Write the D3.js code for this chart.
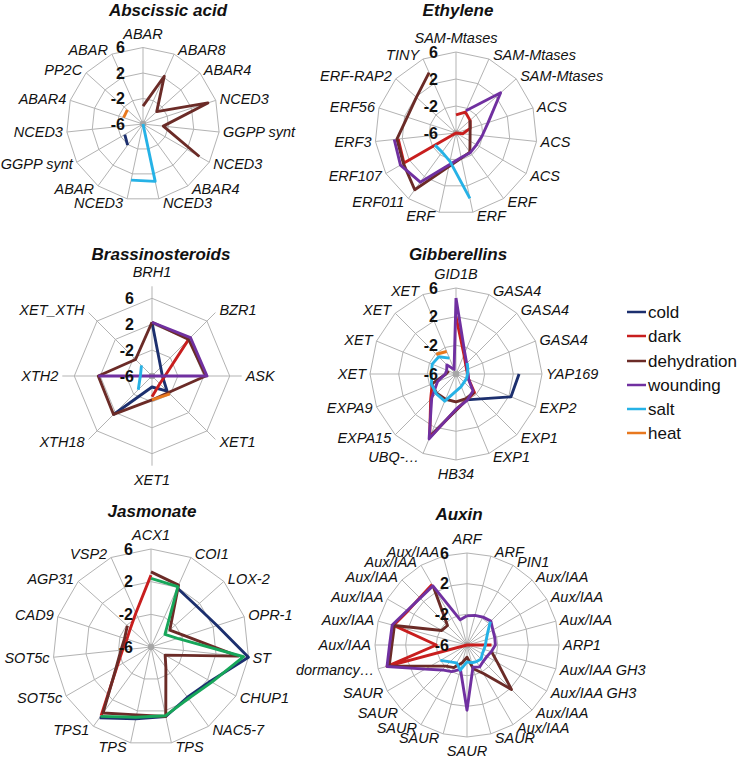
<!DOCTYPE html>
<html><head><meta charset="utf-8">
<script src="https://cdn.jsdelivr.net/npm/d3@7"></script>
<style>
body{margin:0;background:#fff}
svg{display:block}
text{font-family:"Liberation Sans",Arial,Helvetica,sans-serif;fill:#111}
</style>
</head><body>
<svg id="chart" width="738" height="758"></svg>
<script>
const N = null;
const seriesNames  = ["cold","dark","dehydration","wounding","salt","heat"];
const seriesColors = ["#1c2f6e","#c81e1e","#6b2b27","#7030a0","#26b2e6","#e8781e"];
const jasmonateGreen = "#17a65a";
const tickValues = [-6,-2,2,6];

// ---- Abscissic acid ----
const abaCategories = ["ABAR","ABAR8","ABAR4","NCED3","GGPP synt","NCED3","ABAR4","NCED3","NCED3","ABAR","GGPP synt","NCED3","ABAR4","PP2C","ABAR"];
const abaCold        = [N,N,N,N,N,N,N,N,N,-1.9,-2.7,N,N,N,N];
const abaDark        = [N,N,N,N,N,N,N,N,N,N,N,N,N,N,N];
const abaDehydration = [-3.2,2.2,-3.1,4.7,-2.8,4.2,N,N,N,N,N,N,N,N,N];
const abaWounding    = [N,N,N,N,N,N,N,N,N,N,N,N,N,N,N];
const abaSalt        = [N,N,N,N,N,N,-6,3.2,3.0,N,N,N,N,N,N];
const abaHeat        = [N,N,N,N,N,N,N,N,N,N,N,N,-2.8,-2.7,N];

// ---- Ethylene ----
const ethCategories = ["SAM-Mtases","SAM-Mtases","SAM-Mtases","ACS","ACS","ACS","ERF","ERF","ERF","ERF011","ERF107","ERF3","ERF56","ERF-RAP2","TINY"];
const ethCold        = [N,N,N,N,N,N,N,N,N,N,N,N,N,N,N];
const ethDark        = [-3.3,-2.6,-3.2,-3.8,-5.0,-6,-6,-6,-6,-6,2.9,2.6,N,N,N];
const ethDehydration = [N,N,-3.2,-3.8,-3.9,-3.6,-2.5,-2.2,-0.9,4.4,3.0,2.8,1.6,1.9,3.8];
const ethWounding    = [N,-2.4,2.9,-1.0,-2.1,-2.5,-2.4,-2.3,-1.2,3.0,3.5,3.2,N,N,N];
const ethSalt        = [N,N,N,N,N,N,N,3.9,-1.7,-2.5,-2.4,N,N,N,N];
const ethHeat        = [N,N,N,N,N,N,N,N,N,N,N,N,N,N,N];

// ---- Brassinosteroids ----
const braCategories = ["BRH1","BZR1","ASK","XET1","XET1","XTH18","XTH2","XET_XTH"];
const braCold        = [2.3,-4.1,-4.4,-2.7,-4.3,2.4,N,N];
const braDark        = [N,2.0,-4.0,-4.3,-2.8,N,N,N];
const braDehydration = [2.3,2.0,2.3,-2.4,-2.3,2.4,2.3,-2.4];
const braWounding    = [2.3,2.4,2.5,-6,-6,-6,2.3,N];
const braSalt        = [N,N,N,N,N,-3.0,-4.2,-3.7];
const braHeat        = [N,N,N,-2.1,-2.3,N,N,N];

// ---- Gibberellins ----
const gibCategories = ["GID1B","GASA4","GASA4","GASA4","YAP169","EXP2","EXP1","EXP1","HB34","UBQ-…","EXPA15","EXPA9","XET","XET","XET","XET"];
const gibCold        = [N,N,N,N,2.8,2.3,-1.1,-2.1,-0.9,3.3,N,N,N,N,N,N];
const gibDark        = [2.0,-3.1,-4.1,-4.4,-4.4,-4.1,-2.35,-2.1,-1.0,3.6,-1.0,-2.4,N,N,N,N];
const gibDehydration = [N,N,N,N,N,N,-2.4,-2.3,-2.1,-2.2,-2.2,-2.3,-4.6,-4.9,N,N];
const gibWounding    = [4.6,-2.8,-3.9,-4.3,-4.3,-4.1,-2.65,-2.0,-1.1,3.8,-1.2,-3.2,-4.5,-4.6,-4.2,-5.3];
const gibSalt        = [N,N,-3.8,-4.2,-4.4,-4.4,-4.4,-4.1,-3.6,-1.9,-2.1,-2.3,-2.6,-2.4,-2.6,-3.6];
const gibHeat        = [N,N,N,N,N,N,N,N,N,N,N,N,N,N,-2.1,-2.6];

// ---- Jasmonate ----
const jasCategories = ["ACX1","COI1","LOX-2","OPR-1","ST","CHUP1","NAC5-7","TPS","TPS","TPS1","SOT5c","SOT5c","CAD9","AGP31","VSP2"];
const jasCold        = [N,1.9,1.5,2.5,6.0,2.4,1.6,2.7,3.0,4.7,N,N,N,N,N];
const jasDark        = [2.8,N,N,N,N,N,N,N,N,4.4,-1.2,-2.5,-2.9,-2.6,-1.45];
const jasDehydration = [3.2,2.3,-2.9,-1.6,4.7,-4.0,-2.9,2.7,2.5,4.0,-1.1,-2.3,-2.6,-2.1,N];
const jasWounding    = [2.4,2.1,-3.7,-2.6,5.4,2.6,1.8,2.6,2.8,4.5,N,N,N,N,N];
const jasSalt        = [N,N,N,N,N,N,N,N,N,N,N,N,N,N,N];
const jasHeat        = [N,N,N,N,N,N,N,N,N,N,N,N,N,N,N];

// ---- Auxin ----
const auxCategories = ["ARF","ARF","PIN1","Aux/IAA","Aux/IAA","Aux/IAA","ARP1","Aux/IAA GH3","Aux/IAA GH3","Aux/IAA","Aux/IAA","SAUR","SAUR","SAUR","SAUR","SAUR","SAUR","dormancy…","Aux/IAA","Aux/IAA","Aux/IAA","Aux/IAA","Aux/IAA","Aux/IAA"];
const auxCold        = [N,N,N,N,N,N,N,N,N,N,N,N,N,N,N,N,N,N,N,N,N,N,N,N];
const auxDark        = [N,N,N,N,N,N,-2.8,-6,-6,-6,-6,-6,-6,-6,-6,-6,-6,4.8,-2.0,3.9,2.9,2.7,3.1,N];
const auxDehydration = [N,N,N,N,N,N,N,-2.7,-1.4,2.2,-1.7,-2.8,-4.4,-3.6,-2.6,-2.1,-0.5,4.5,3.8,3.8,-2.2,-2.4,2.8,N];
const auxWounding    = [-2.2,-2.0,-1.8,-1.6,-2.1,-2.25,-2.3,-2.7,-3.0,-3.0,-2.7,-3.0,2.5,-2.7,-2.0,-1.4,0.3,4.8,4.1,4.1,3.0,2.65,2.9,-2.6];
const auxSalt        = [N,N,N,-1.7,-2.9,-3.4,-3.6,-3.7,-3.7,-3.4,-3.5,-3.6,-3.8,-2.6,-3.3,-2.9,-2.0,N,N,N,N,N,N,N];
const auxHeat        = [N,N,N,N,N,N,N,N,N,N,N,N,N,N,N,N,N,N,N,N,N,N,N,N];

// layout (positions only)
const charts = [
  {title:"Abscissic acid", cats:abaCategories, data:[abaCold,abaDark,abaDehydration,abaWounding,abaSalt,abaHeat], cx:143, cy:124, R:76.5, ext:0, tx:168, ty:10},
  {title:"Ethylene", cats:ethCategories, data:[ethCold,ethDark,ethDehydration,ethWounding,ethSalt,ethHeat], cx:456, cy:133, R:81, ext:0, tx:458, ty:10},
  {title:"Brassinosteroids", cats:braCategories, data:[braCold,braDark,braDehydration,braWounding,braSalt,braHeat], cx:152, cy:376, R:77.7, ext:12, tx:161, ty:254},
  {title:"Gibberellins", cats:gibCategories, data:[gibCold,gibDark,gibDehydration,gibWounding,gibSalt,gibHeat], cx:456, cy:374, R:86, ext:0, tx:458, ty:254},
  {title:"Jasmonate", cats:jasCategories, data:[jasCold,jasDark,jasDehydration,jasWounding,jasSalt,jasHeat], cx:151, cy:647, R:98, ext:0, tx:152, ty:511, colorOverride:{3:jasmonateGreen}},
  {title:"Auxin", cats:auxCategories, data:[auxCold,auxDark,auxDehydration,auxWounding,auxSalt,auxHeat], cx:467, cy:645, R:92, ext:0, tx:459, ty:514}
];

const svg = d3.select("#chart");

charts.forEach(ch => {
  const n = ch.cats.length;
  const g = svg.append("g").attr("transform", `translate(${ch.cx},${ch.cy})`);
  const r = d3.scaleLinear().domain([-6, 6]).range([0, ch.R]).clamp(true);
  const ang = d3.scaleLinear().domain([0, n]).range([0, 2 * Math.PI]);

  // rings
  const ring = d3.lineRadial().angle((d, i) => ang(i)).radius(d => d).curve(d3.curveLinearClosed);
  tickValues.filter(t => t > -6).forEach(t => {
    g.append("path").attr("d", ring(d3.range(n).map(() => r(t))))
      .attr("fill", "none").attr("stroke", "#b3b3b3").attr("stroke-width", 1);
  });
  // axes
  d3.range(n).forEach(i => {
    const a = ang(i), L = ch.R + ch.ext;
    g.append("line").attr("x1", 0).attr("y1", 0)
      .attr("x2", L * Math.sin(a)).attr("y2", -L * Math.cos(a))
      .attr("stroke", "#b3b3b3").attr("stroke-width", 1);
  });
  g.append("circle").attr("r", 3.2).attr("fill", "#a6a6a6");

  // category labels
  d3.range(n).forEach(i => {
    const a = ang(i), L = ch.R + ch.ext;
    const s = Math.sin(a), c = Math.cos(a);
    let x = L * s, y = -L * c, anchor;
    if (Math.abs(s) < 0.02) { anchor = "middle"; y += -14 * Math.sign(c); }
    else { anchor = s > 0 ? "start" : "end"; x += 4 * Math.sign(s); y += -4 * c; }
    g.append("text").attr("x", x).attr("y", y).attr("text-anchor", anchor)
      .attr("dominant-baseline", "central").attr("font-size", 14.5)
      .attr("font-style", "italic").text(ch.cats[i]);
  });

  // series
  const line = d3.lineRadial()
    .defined(d => d.v !== null)
    .angle(d => ang(d.i)).radius(d => r(d.v))
    .curve(d3.curveLinear);
  ch.data.forEach((vals, si) => {
    const pts = vals.map((v, i) => ({i, v}));
    pts.push({i: n, v: vals[0]});
    if (pts.every(p => p.v === null)) return;
    const color = (ch.colorOverride && ch.colorOverride[si]) || seriesColors[si];
    g.append("path").attr("d", line(pts)).attr("fill", "none")
      .attr("stroke", color).attr("stroke-width", 2.9)
      .attr("stroke-linejoin", "round").attr("stroke-linecap", "butt");
  });

  // tick labels
  tickValues.forEach(t => {
    g.append("text").attr("x", -18).attr("y", -r(t))
      .attr("text-anchor", "end").attr("dominant-baseline", "central")
      .attr("font-size", 16).attr("font-weight", "bold").text(t);
  });

  // title
  svg.append("text").attr("x", ch.tx).attr("y", ch.ty)
    .attr("text-anchor", "middle").attr("dominant-baseline", "central")
    .attr("font-size", 17).attr("font-weight", "bold").attr("font-style", "italic")
    .text(ch.title);
});

// legend
const legendY = [312, 336, 361, 385, 409, 433];
const lg = svg.append("g");
seriesNames.forEach((name, i) => {
  lg.append("line").attr("x1", 627).attr("x2", 646).attr("y1", legendY[i]).attr("y2", legendY[i])
    .attr("stroke", seriesColors[i]).attr("stroke-width", 2.5);
  lg.append("text").attr("x", 648).attr("y", legendY[i]).attr("dominant-baseline", "central")
    .attr("font-size", 17).text(name);
});
</script>
</body></html>
